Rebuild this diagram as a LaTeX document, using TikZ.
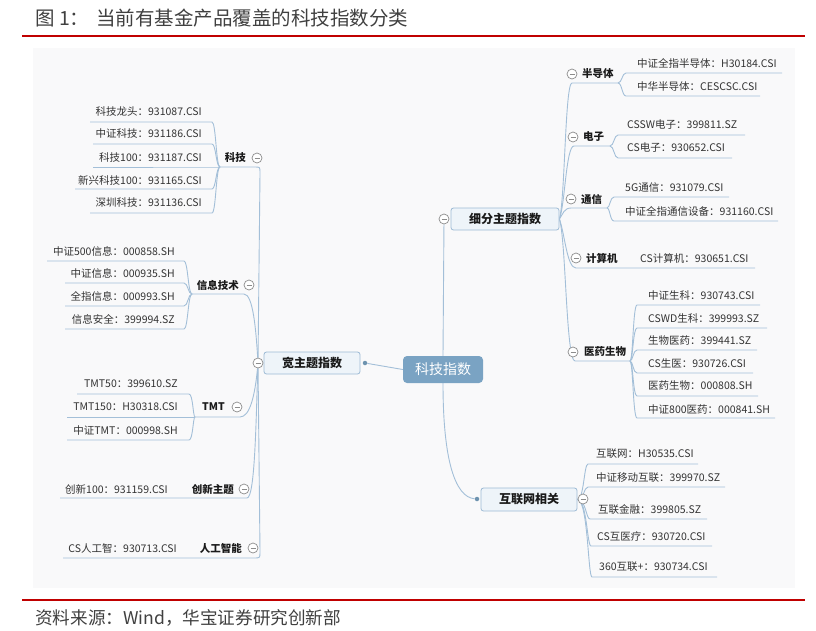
\documentclass[tikz,border=0pt]{standalone}
\usepackage{fontspec}
\setmainfont{Noto Sans CJK SC}
\usetikzlibrary{calc,backgrounds}
\definecolor{lnc}{HTML}{A3BFD8}
\definecolor{rootc}{HTML}{7AA3C3}
\definecolor{boxf}{HTML}{EEF4F9}
\definecolor{boxd}{HTML}{9EBBD5}
\definecolor{foldc}{HTML}{8C8C8C}
\definecolor{leaftxt}{HTML}{333333}
\definecolor{cattxt}{HTML}{1A1A1A}
\definecolor{redc}{HTML}{C00000}
\definecolor{panelc}{HTML}{F9F9FA}
\definecolor{titletxt}{HTML}{404040}
\newcommand\leafR[7]{\node[leaf,anchor=west] (#1) at (#2,#3) {#7};\coordinate (#1-a) at (#5,#4);\coordinate (#1-b) at (#6,#4);}
\newcommand\leafL[7]{\node[leaf,anchor=east] (#1) at (#2,#3) {#7};\coordinate (#1-a) at (#5,#4);\coordinate (#1-b) at (#6,#4);}
\newcommand\brR[2]{\draw[conn] let \p1=(#1),\p2=(#2-a) in (\p1) .. controls (\x2,\y1) and (\x2,\y2) .. ([xshift=4pt]#2-a) -- (#2-b);}
\newcommand\brL[2]{\draw[conn] let \p1=(#1),\p2=(#2-b) in (\p1) .. controls (\x2,\y1) and (\x2,\y2) .. ([xshift=-4pt]#2-b) -- (#2-a);}
\begin{document}
\begin{tikzpicture}[x=1pt,y=-1pt,
  leaf/.style={font=\fontsize{10.5}{12}\selectfont, text=leaftxt, inner sep=0pt},
  cat/.style={font=\fontsize{10.5}{12}\selectfont\bfseries, text=cattxt, inner sep=0pt},
  conn/.style={draw=lnc, line width=0.9pt},
  fold/.style={circle, draw=foldc, fill=white, minimum size=10pt, inner sep=0pt, line width=0.7pt,
    path picture={\draw[foldc,line width=0.7pt] ([xshift=2.5pt]path picture bounding box.west) -- ([xshift=-2.5pt]path picture bounding box.east);}},
  midbox/.style={draw=boxd, fill=boxf, rounded corners=2.5pt, line width=0.8pt, font=\fontsize{12}{14}\selectfont\bfseries, text=cattxt, minimum height=22pt, inner sep=0pt},
  rootbox/.style={fill=rootc, rounded corners=4pt, text=white, font=\fontsize{14}{16}\selectfont, minimum width=80pt, minimum height=27pt, inner sep=0pt},
  dotn/.style={circle, fill=rootc!90!black, minimum size=4.5pt, inner sep=0pt},
  rule/.style={draw=redc, line width=2.4pt}
]
\useasboundingbox (0,0) rectangle (816,630);
\begin{pgfonlayer}{background}
\fill[panelc] (33,48) rectangle (795,588);
\end{pgfonlayer}
% title and source
\node[anchor=west, font=\fontsize{19.5}{21}\selectfont, text=titletxt, inner sep=0pt] (title) at (35,18) {图 1：\hspace{7pt}当前有基金产品覆盖的科技指数分类};
\draw[rule] (22,36) -- (805,36);
\draw[rule] (22,600) -- (805,600);
\node[anchor=west, font=\fontsize{17.6}{19}\selectfont, text=titletxt, inner sep=0pt] (src) at (35,618) {资料来源：Wind，华宝证券研究创新部};
% main boxes
\node[rootbox] (root) at (443,369.5) {科技指数};
\node[midbox, minimum width=96pt] (kz) at (312,363) {宽主题指数};
\node[midbox, minimum width=108pt] (xf) at (505,219) {细分主题指数};
\node[midbox, minimum width=96pt, minimum height=23pt] (hl) at (529,499.5) {互联网相关};
\node[dotn] (kz-dot) at (365,363) {};
\node[dotn] (hl-dot) at (477,499) {};
% left categories
\node[cat,anchor=east] (kj) at (246,158) {科技};
\node[cat,anchor=east] (xx) at (239,285) {信息技术};
\node[cat,anchor=east] (tmt) at (225,407) {TMT};
\node[cat,anchor=east] (cx) at (234,489) {创新主题};
\node[cat,anchor=east] (ai) at (242,548) {人工智能};
\coordinate (kj-L) at (220,167);
\coordinate (xx-L) at (192,294);
\coordinate (tmt-L) at (195,417);
% right categories
\node[cat,anchor=west] (bd) at (582,74) {半导体};
\node[cat,anchor=west] (dz) at (583,137) {电子};
\node[cat,anchor=west] (tx) at (581,199) {通信};
\node[cat,anchor=west] (js) at (586,258) {计算机};
\node[cat,anchor=west] (yy) at (584,352) {医药生物};
\coordinate (bd-R) at (618,83);
\coordinate (dz-R) at (610,146);
\coordinate (tx-R) at (607,208);
\coordinate (yy-R) at (630,361);
% left leaves
\leafL{kj1}{202}{112}{122}{90}{216}{科技龙头：931087.CSI}
\leafL{kj2}{202}{134}{144}{93}{216}{中证科技：931186.CSI}
\leafL{kj3}{202}{158}{167}{93}{216}{科技100：931187.CSI}
\leafL{kj4}{202}{180}{189}{75}{216}{新兴科技100：931165.CSI}
\leafL{kj5}{202}{203}{213}{90}{216}{深圳科技：931136.CSI}
\leafL{xx1}{175}{251}{261}{47}{188}{中证500信息：000858.SH}
\leafL{xx2}{175}{273}{283}{65}{188}{中证信息：000935.SH}
\leafL{xx3}{175}{296}{306}{65}{188}{全指信息：000993.SH}
\leafL{xx4}{175}{319}{329}{65}{188}{信息安全：399994.SZ}
\leafL{t1}{178}{384}{394}{77}{193}{TMT50：399610.SZ}
\leafL{t2}{178}{407}{417}{67}{193}{TMT150：H30318.CSI}
\leafL{t3}{178}{430}{440}{67}{193}{中证TMT：000998.SH}
\leafL{cx1}{168}{489}{498}{60}{190}{创新100：931159.CSI}
\leafL{ai1}{177}{548}{558}{63}{195}{CS人工智：930713.CSI}
% right leaves
\leafR{bd1}{637}{63}{73}{622}{782}{中证全指半导体：H30184.CSI}
\leafR{bd2}{637}{86}{96}{622}{760}{中华半导体：CESCSC.CSI}
\leafR{dz1}{627}{125}{135}{614}{745}{CSSW电子：399811.SZ}
\leafR{dz2}{627}{148}{158}{614}{732}{CS电子：930652.CSI}
\leafR{tx1}{625}{188}{197}{610}{729}{5G通信：931079.CSI}
\leafR{tx2}{625}{211}{221}{610}{778}{中证全指通信设备：931160.CSI}
\leafR{js1}{640}{258}{268}{630}{755}{CS计算机：930651.CSI}
\leafR{yy1}{648}{295}{305}{633}{760}{中证生科：930743.CSI}
\leafR{yy2}{648}{318}{328}{633}{767}{CSWD生科：399993.SZ}
\leafR{yy3}{648}{341}{350}{633}{757}{生物医药：399441.SZ}
\leafR{yy4}{648}{363}{373}{633}{753}{CS生医：930726.CSI}
\leafR{yy5}{648}{386}{396}{633}{758}{医药生物：000808.SH}
\leafR{yy6}{648}{409}{418}{633}{775}{中证800医药：000841.SH}
\leafR{hl1}{596}{454}{464}{584}{698}{互联网：H30535.CSI}
\leafR{hl2}{596}{478}{487}{584}{725}{中证移动互联：399970.SZ}
\leafR{hl3}{598}{509}{519}{586}{707}{互联金融：399805.SZ}
\leafR{hl4}{597}{536}{546}{587}{712}{CS互医疗：930720.CSI}
\leafR{hl5}{599}{567}{577}{588}{717}{360互联+：930734.CSI}
% fold markers
\node[fold] (kz-f) at (258,363) {};
\node[fold] (xf-f) at (444,219) {};
\node[fold] (hl-f) at (583,499) {};
\node[fold] (kj-f) at (257,158) {};
\node[fold] (xx-f) at (249,285) {};
\node[fold] (tmt-f) at (237,407) {};
\node[fold] (cx-f) at (244,489) {};
\node[fold] (ai-f) at (253,548) {};
\node[fold] (bd-f) at (572,74) {};
\node[fold] (dz-f) at (573,137) {};
\node[fold] (tx-f) at (571,199) {};
\node[fold] (js-f) at (576,258) {};
\node[fold] (yy-f) at (573,352) {};
% connectors
\begin{pgfonlayer}{background}
\draw[conn] (kz-dot) -- (root.west);
\draw[conn] (xf-f) -- (root.north);
\draw[conn] (root.south) .. controls (443,460) and (455,497) .. (hl-dot);
% left trunk
\draw[conn] (kz-f) -- (260,173) .. controls (260,167) .. (255,167) -- (kj-L);
\draw[conn] (kz-f) .. controls (256,330) and (253,294) .. (244,294) -- (xx-L);
\draw[conn] (kz-f) .. controls (255,395) and (250,417) .. (240,417) -- (tmt-L);
\draw[conn] (kz-f) .. controls (256,420) and (255,498) .. (247,498) -- (cx1-a);
\draw[conn] (kz-f) -- (260,552) .. controls (260,558) .. (254,558) -- (ai1-a);
% right trunk
\draw[conn] (xf.east) .. controls (565,200) and (565,83) .. (572,83) -- (bd-R);
\draw[conn] (xf.east) .. controls (565,205) and (566,146) .. (574,146) -- (dz-R);
\draw[conn] (xf.east) .. controls (563,214) and (564,208) .. (571,208) -- (tx-R);
\draw[conn] (xf.east) .. controls (565,235) and (567,268) .. (576,268) -- (js1-b);
\draw[conn] (xf.east) .. controls (566,240) and (566,361) .. (575,361) -- (yy-R);
% brackets
\brL{kj-L}{kj1}\brL{kj-L}{kj2}\brL{kj-L}{kj3}\brL{kj-L}{kj4}\brL{kj-L}{kj5}
\brL{xx-L}{xx1}\brL{xx-L}{xx2}\brL{xx-L}{xx3}\brL{xx-L}{xx4}
\brL{tmt-L}{t1}\brL{tmt-L}{t2}\brL{tmt-L}{t3}
\brR{bd-R}{bd1}\brR{bd-R}{bd2}
\brR{dz-R}{dz1}\brR{dz-R}{dz2}
\brR{tx-R}{tx1}\brR{tx-R}{tx2}
\brR{yy-R}{yy1}\brR{yy-R}{yy2}\brR{yy-R}{yy3}\brR{yy-R}{yy4}\brR{yy-R}{yy5}\brR{yy-R}{yy6}
\brR{hl.east}{hl1}\brR{hl.east}{hl2}\brR{hl.east}{hl3}\brR{hl.east}{hl4}\brR{hl.east}{hl5}
\end{pgfonlayer}
\end{tikzpicture}
\end{document}
